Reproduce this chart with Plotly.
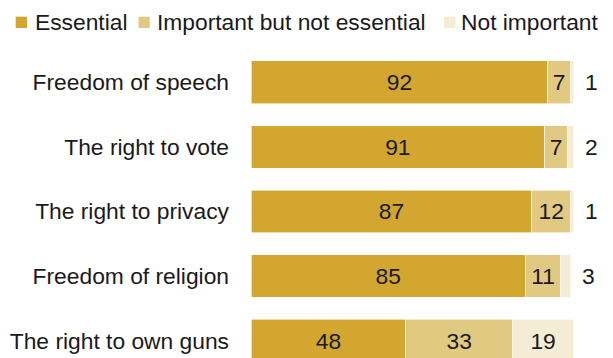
import plotly.graph_objects as go

# Survey shares (%) for each right
rights = ["Freedom of speech", "The right to vote", "The right to privacy",
          "Freedom of religion", "The right to own guns"]
essential = [92, 91, 87, 85, 48]
important = [7, 7, 12, 11, 33]
not_important = [1, 2, 1, 3, 19]

series_names = ["Essential", "Important but not essential", "Not important"]
colors = ["#D2A62F", "#E2C982", "#F5ECD6"]

FONT = "Liberation Sans"
TXT = "#1a1a1a"
FS = 22.8

W, H = 613, 358
ML, MT, MR = 251, 50, 7
XMAX = 110
plot_w = W - ML - MR
plot_h = H - MT


def px_x(px):
    return (px - ML) / plot_w


def px_y(py):
    return (H - py) / plot_h


fig = go.Figure()
for name, vals, col in zip(series_names, [essential, important, not_important], colors):
    # tiny segments get their label outside the bar instead
    labels = [str(v) if v >= 5 else "" for v in vals]
    fig.add_trace(go.Bar(
        y=rights, x=vals, name=name, orientation="h",
        marker=dict(color=col, line=dict(color="white", width=0.6)),
        text=labels, textposition="inside", insidetextanchor="middle",
        textfont=dict(family=FONT, size=FS, color=TXT),
        constraintext="none",
        cliponaxis=False, showlegend=False,
    ))

annotations = []
for r, e, i, n in zip(rights, essential, important, not_important):
    if n < 5:
        annotations.append(dict(
            x=e + i + n + 5.5, y=r, xref="x", yref="y", text=str(n),
            showarrow=False, xanchor="center",
            font=dict(family=FONT, size=FS, color=TXT)))

# Legend row drawn along the top
shapes = []
legend_items = [(15.7, 35), (138.5, 156.7), (444, 460.7)]
for (sx, tx), name, col in zip(legend_items, series_names, colors):
    shapes.append(dict(type="rect", xref="paper", yref="paper",
                       x0=px_x(sx), x1=px_x(sx + 11.3),
                       y0=px_y(28), y1=px_y(16.7),
                       fillcolor=col, line=dict(width=0)))
    annotations.append(dict(x=px_x(tx - 2), y=px_y(21.5),
                            xref="paper", yref="paper", text=name, showarrow=False,
                            xanchor="left", yanchor="middle",
                            font=dict(family=FONT, size=FS, color=TXT)))

fig.update_layout(
    barmode="stack", bargap=0.34,
    width=W, height=H,
    margin=dict(l=ML, r=MR, t=MT, b=0),
    paper_bgcolor="white", plot_bgcolor="white",
    shapes=shapes, annotations=annotations,
    xaxis=dict(range=[0, XMAX], visible=False),
    yaxis=dict(type="category", range=[4.27, -0.5], showgrid=False,
               zeroline=False, showline=False, ticks="",
               ticklabelstandoff=21,
               tickfont=dict(family=FONT, size=FS, color=TXT)),
)

fig.write_html("out.html")
